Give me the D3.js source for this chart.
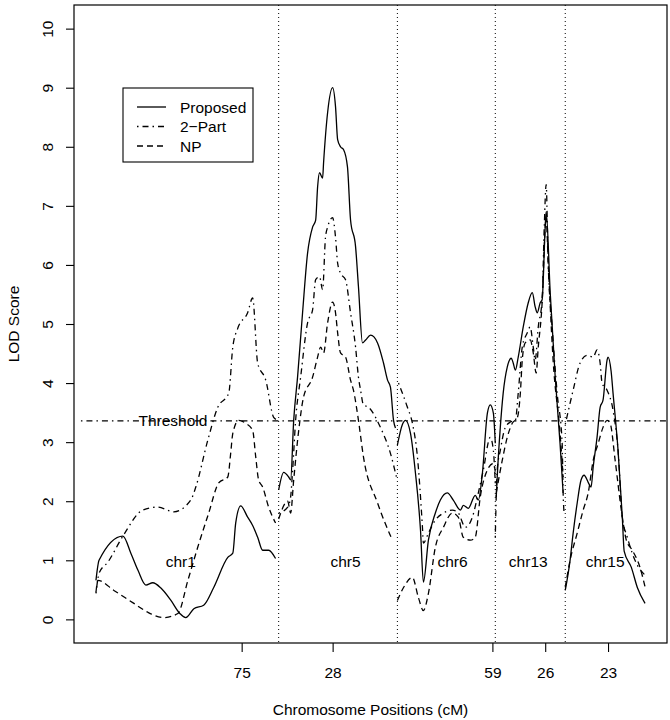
<!DOCTYPE html>
<html>
<head>
<meta charset="utf-8">
<script src="https://cdn.jsdelivr.net/npm/d3@7"></script>
<style>
  html, body { margin: 0; padding: 0; background: #fff; }
  svg { display: block; }
  text { font-family: "Liberation Sans", Arial, Helvetica, sans-serif; fill: #000; }
</style>
</head>
<body>
<svg id="chart" width="670" height="720"></svg>
<script>
// ---------------- DATA (cumulative genome position in cM, LOD score) ----------------
const chromosomes = ["chr1", "chr5", "chr6", "chr13", "chr15"];
const chrLabelPos = [44, 129.5, 185, 224.3, 264.2];
const chrBoundaries = [94.8, 156.4, 207.2, 243.5];
const tickPos = [75.6, 122.8, 205.7, 233.1, 265.7];
const tickLabels = ["75", "28", "59", "26", "23"];
const yTicks = [0, 1, 2, 3, 4, 5, 6, 7, 8, 9, 10];
const threshold = 3.36;
const thresholdStart = -7.8;
const seriesNames = ["Proposed", "2\u2212Part", "NP"];

// Proposed (solid)
const proposedChr1 = [[0,0.66],[1.6,1.0],[14.0,1.41],[18.1,1.12],[21.8,0.83],[25.9,0.58],[29.5,0.62],[33.7,0.53],[38.9,0.32],[43.5,0.1],[46.6,0.03],[50.8,0.18],[55.9,0.24],[61.1,0.54],[68.4,1.05],[71.0,1.12],[72.5,1.63],[75.1,1.92],[78.7,1.73],[81.3,1.59],[83.9,1.39],[86.5,1.17],[89.6,1.17],[93.2,1.03]];
const proposedChr5 = [[94.8,2.19],[97.4,2.49],[100.0,2.41],[101.0,2.36],[102.6,3.37],[104.6,4.1],[107.2,5.19],[109.8,6.2],[112.4,6.64],[114.0,6.76],[115.0,7.32],[116.0,7.56],[117.6,7.47],[118.1,7.73],[120.2,8.58],[122.8,9.0],[124.3,8.68],[125.4,8.12],[126.9,8.0],[128.5,7.95],[130.5,7.66],[132.1,6.76],[134.7,6.31],[136.2,5.63],[138.3,4.68],[139.9,4.73],[142.5,4.81],[146.1,4.68],[149.2,4.34],[151.3,4.05],[152.8,3.93],[154.4,3.37],[155.4,3.24]];
const proposedChr6 = [[156.4,2.95],[159.0,3.3],[160.6,3.37],[163.2,3.15],[165.8,2.47],[168.4,1.51],[169.9,0.63],[172.5,1.34],[176.1,1.8],[178.7,2.02],[182.3,2.14],[185.4,2.02],[189.1,1.85],[190.6,1.93],[193.2,1.88],[196.8,2.1],[198.4,2.02],[200.5,2.47],[203.1,3.49],[204.6,3.63],[206.2,3.49],[207.2,2.98]];
const proposedChr13 = [[207.7,2.07],[208.2,2.41],[209.8,3.25],[211.3,3.83],[213.4,4.27],[215.5,4.42],[216.5,4.34],[217.6,4.22],[219.1,4.44],[221.7,4.95],[224.3,5.36],[226.4,5.53],[227.9,5.29],[229.0,5.19],[230.5,5.36],[231.5,5.41],[233.1,6.64],[233.6,6.9],[235.7,5.53],[238.3,4.1],[240.8,2.98],[242.4,2.14]];
const proposedChr15 = [[243.5,0.49],[246.0,1.0],[247.6,1.46],[249.7,1.97],[251.7,2.36],[253.3,2.44],[255.4,2.32],[256.9,2.24],[258.0,2.58],[260.0,3.08],[261.6,3.59],[263.1,3.71],[265.2,4.39],[265.7,4.44],[267.3,4.2],[268.3,3.83],[270.9,2.86],[273.1,1.73],[274.1,1.15],[277.8,0.88],[280.9,0.54],[284.9,0.27]];

// 2-Part (dot-dash)
const twoPartChr1 = [[0,0.44],[1.6,0.78],[6.2,0.97],[14.0,1.41],[24.3,1.85],[32.1,1.9],[40.4,1.82],[49.2,2.02],[51.8,2.24],[58.0,3.03],[63.2,3.59],[68.9,3.83],[71.0,4.61],[73.6,4.93],[78.7,5.19],[81.3,5.44],[83.9,4.34],[88.1,4.05],[92.2,3.42],[93.8,3.38]];
const twoPartChr5 = [[94.8,1.8],[99.5,1.9],[101.0,2.07],[102.0,2.5],[103.6,3.37],[106.2,4.1],[109.8,5.02],[112.4,5.24],[114.0,5.75],[116.0,5.8],[117.6,5.58],[119.1,6.47],[120.2,6.64],[122.8,6.8],[124.3,6.47],[125.4,6.03],[126.9,5.86],[129.5,5.75],[132.1,5.19],[134.7,4.61],[136.2,4.1],[137.3,3.88],[138.8,3.63],[141.4,3.59],[147.6,3.25],[152.8,2.81],[155.9,2.41]];
const twoPartChr6 = [[157.0,4.0],[161.6,3.59],[164.2,3.32],[166.8,2.75],[169.4,1.56],[169.9,1.29],[172.5,1.46],[176.1,1.68],[180.3,1.8],[184.9,1.85],[188.0,1.8],[191.7,1.56],[195.3,1.73],[198.4,2.14],[201.0,2.53],[204.6,3.08],[206.2,2.86],[207.2,2.3]];
const twoPartChr13 = [[207.2,1.39],[208.2,2.53],[209.8,2.86],[212.4,3.25],[215.0,3.34],[217.6,3.37],[219.1,3.83],[221.2,4.61],[223.8,4.85],[225.3,4.95],[226.9,4.61],[227.9,4.39],[229.5,4.95],[231.5,5.41],[232.6,6.64],[233.6,7.36],[234.6,6.08],[236.7,4.95],[239.3,3.83],[241.9,2.98],[242.4,2.14],[242.9,1.8]];
const twoPartChr15 = [[243.5,3.3],[247.6,3.88],[251.2,4.34],[254.9,4.47],[258.0,4.44],[260.0,4.56],[261.6,4.34],[262.6,4.0],[265.2,3.88],[268.3,3.54],[270.9,2.86],[273.1,1.73],[275.7,1.39],[280.4,0.95],[284.9,0.75]];

// NP (dashed)
const npChr1 = [[0,0.46],[1.0,0.66],[9.3,0.49],[19.7,0.27],[26.9,0.12],[35.2,0.03],[42.5,0.1],[47.7,0.66],[52.8,1.22],[58.5,1.8],[63.7,2.31],[68.4,2.41],[69.9,2.81],[71.0,3.15],[74.1,3.37],[77.7,3.32],[81.3,3.2],[82.9,2.75],[84.4,2.36],[86.5,2.24],[89.6,1.9],[93.2,1.63]];
const npChr5 = [[94.8,1.7],[99.5,2.0],[101.0,1.8],[102.6,2.36],[105.2,3.2],[107.7,3.76],[112.4,4.1],[115.0,4.44],[116.6,4.61],[118.1,4.51],[120.2,5.02],[122.8,5.37],[124.3,5.19],[125.4,4.85],[126.9,4.51],[129.5,4.44],[132.1,4.05],[133.6,3.88],[136.2,3.37],[138.8,2.75],[146.1,1.97],[153.8,1.34]];
const npChr6 = [[156.4,0.32],[159.6,0.54],[164.2,0.71],[167.3,0.37],[169.9,0.15],[172.5,0.44],[176.1,1.22],[180.3,1.56],[184.9,1.8],[188.0,1.73],[190.6,1.39],[194.3,1.34],[196.8,1.39],[199.4,2.07],[203.1,2.53],[206.2,2.64],[207.2,2.5]];
const npChr13 = [[207.7,2.14],[210.8,2.69],[213.4,3.08],[216.0,3.32],[218.6,3.41],[220.2,3.83],[221.2,4.39],[222.7,4.68],[225.3,4.73],[226.9,4.51],[228.4,4.17],[229.5,4.61],[231.5,5.36],[233.1,6.64],[233.6,6.81],[234.6,6.08],[237.2,4.39],[240.8,3.15],[242.4,2.41]];
const npChr15 = [[243.5,0.54],[246.0,1.0],[249.7,1.46],[252.8,1.85],[255.4,2.14],[258.0,2.69],[260.6,2.98],[263.1,3.25],[265.2,3.37],[266.8,3.32],[269.4,2.69],[272.6,1.85],[275.2,1.34],[278.3,1.17],[282.3,0.88],[284.9,0.55]];

// ---------------- DRAWING ----------------
const series = [
  { name: seriesNames[0], dash: null, segments: [proposedChr1, proposedChr5, proposedChr6, proposedChr13, proposedChr15] },
  { name: seriesNames[1], dash: "1.5,4,6,4", segments: [twoPartChr1, twoPartChr5, twoPartChr6, twoPartChr13, twoPartChr15] },
  { name: seriesNames[2], dash: "6,4", segments: [npChr1, npChr5, npChr6, npChr13, npChr15] }
];

const frame = { left: 74, right: 667, top: 5, bottom: 643 };
const svg = d3.select("#chart");

const allX = series.flatMap(s => s.segments.flat().map(d => d[0]));
const xMin = d3.min(allX), xMax = d3.max(allX);
const xPad = 0.04 * (xMax - xMin);
const x = d3.scaleLinear().domain([xMin - xPad, xMax + xPad]).range([frame.left, frame.right]);
const yPad = 0.04 * 10;
const y = d3.scaleLinear().domain([0 - yPad, 10 + yPad]).range([frame.bottom, frame.top]);

// chromosome boundaries (dotted)
svg.append("g").selectAll("line").data(chrBoundaries).join("line")
  .attr("x1", d => x(d)).attr("x2", d => x(d))
  .attr("y1", frame.top).attr("y2", frame.bottom)
  .attr("stroke", "#000").attr("stroke-width", 1)
  .attr("stroke-dasharray", "1,3");

// threshold line
svg.append("line")
  .attr("x1", x(thresholdStart)).attr("x2", frame.right)
  .attr("y1", y(threshold)).attr("y2", y(threshold))
  .attr("stroke", "#000").attr("stroke-width", 1.1)
  .attr("stroke-dasharray", "1.5,4,6,4");
svg.append("text")
  .attr("x", x(thresholdStart) + 92).attr("y", y(threshold) + 5.5)
  .attr("text-anchor", "middle").attr("font-size", "15.5px")
  .text("Threshold");

// curves
const line = d3.line().x(d => x(d[0])).y(d => y(d[1])).curve(d3.curveMonotoneX);
series.forEach(s => {
  svg.append("g").selectAll("path").data(s.segments).join("path")
    .attr("d", line)
    .attr("fill", "none").attr("stroke", "#000").attr("stroke-width", 1.3)
    .attr("stroke-linejoin", "round")
    .attr("stroke-dasharray", s.dash);
});

// chromosome labels
svg.append("g").selectAll("text").data(chromosomes).join("text")
  .attr("x", (d, i) => x(chrLabelPos[i])).attr("y", y(0.88))
  .attr("text-anchor", "middle").attr("font-size", "15.5px")
  .text(d => d);

// frame
svg.append("rect")
  .attr("x", frame.left).attr("y", frame.top)
  .attr("width", frame.right - frame.left).attr("height", frame.bottom - frame.top)
  .attr("fill", "none").attr("stroke", "#000").attr("stroke-width", 1.2);

// y axis
const yAxis = svg.append("g").attr("transform", `translate(${frame.left},0)`)
  .call(d3.axisLeft(y).tickValues(yTicks).tickSize(8).tickSizeOuter(0).tickFormat(d3.format("d")));
yAxis.select(".domain").remove();
yAxis.selectAll(".tick line").attr("stroke-width", 1.1);
yAxis.selectAll(".tick text")
  .attr("transform", "rotate(-90)")
  .attr("x", 0).attr("y", -21).attr("dy", null)
  .attr("text-anchor", "middle")
  .style("font-family", "'Liberation Sans', Arial, sans-serif")
  .style("font-size", "15.5px");

// x axis
const xAxis = svg.append("g").attr("transform", `translate(0,${frame.bottom})`)
  .call(d3.axisBottom(x).tickValues(tickPos).tickSize(9).tickSizeOuter(0).tickFormat((d, i) => tickLabels[i]));
xAxis.select(".domain").remove();
xAxis.selectAll(".tick line").attr("stroke-width", 1.1);
xAxis.selectAll(".tick text")
  .attr("y", 35).attr("dy", null)
  .style("font-family", "'Liberation Sans', Arial, sans-serif")
  .style("font-size", "15.5px");

// axis titles
svg.append("text")
  .attr("x", (frame.left + frame.right) / 2).attr("y", 715)
  .attr("text-anchor", "middle").attr("font-size", "15.5px")
  .text("Chromosome Positions (cM)");
svg.append("text")
  .attr("transform", `translate(19,${(frame.top + frame.bottom) / 2}) rotate(-90)`)
  .attr("text-anchor", "middle").attr("font-size", "15.5px")
  .text("LOD Score");

// legend
const legend = svg.append("g").attr("transform", "translate(123,88)");
legend.append("rect").attr("width", 130).attr("height", 74)
  .attr("fill", "#fff").attr("stroke", "#000").attr("stroke-width", 1.1);
series.forEach((s, i) => {
  const cy = 19 + i * 19.5;
  legend.append("line").attr("x1", 14).attr("x2", 43).attr("y1", cy).attr("y2", cy)
    .attr("stroke", "#000").attr("stroke-width", 1.3).attr("stroke-dasharray", s.dash);
  legend.append("text").attr("x", 57).attr("y", cy + 5.5)
    .attr("font-size", "15.5px").text(s.name);
});
</script>
</body>
</html>
